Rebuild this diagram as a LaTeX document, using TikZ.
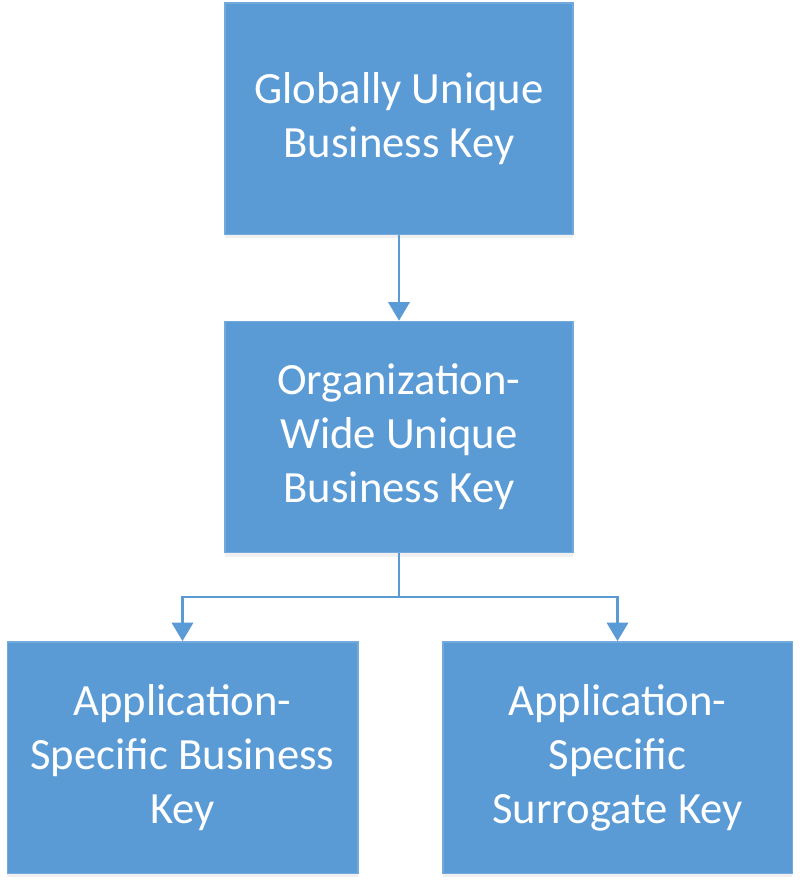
\documentclass[tikz,border=0pt]{standalone}
\usepackage{fontspec}
\setmainfont{Carlito}
\usetikzlibrary{arrows.meta,shadows}
\definecolor{keyblue}{RGB}{91,155,213}
\tikzset{
  keybox/.style={draw=keyblue!85!white, line width=1pt, fill=keyblue, text=white,
    align=center, inner sep=0pt, minimum width=261pt, minimum height=173.5pt,
    font=\fontsize{33.5}{40.5}\selectfont,
    drop shadow={opacity=0.12, shadow xshift=0pt, shadow yshift=-3pt}},
  link/.style={draw=keyblue, line width=2.2pt, -{Triangle[width=16pt,length=14pt]}}
}
\begin{document}
\begin{tikzpicture}[x=0.75pt,y=-0.75pt]
        \useasboundingbox (0,0) rectangle (800,886);

        % key levels
        \node[keybox] (glob) at (399,118.5) {Globally Unique\\Business Key};
        \node[keybox] (org) at (399,437) {Organization-\\Wide Unique\\Business Key};
        \node[keybox, minimum width=263pt] (appbiz) at (182.5,757.5) {Application-\\Specific Business\\Key};
        \node[keybox, minimum width=262pt] (appsur) at (617.5,757.5) {Application-\\Specific\\Surrogate Key};

        \coordinate (split) at (399,597);

        \draw[link] (glob.south) -- (org.north);
        \draw[link] (org.south) -- (split) -| (appbiz.north);
        \draw[link] (split) -| (appsur.north);

    \end{tikzpicture}
\end{document}
